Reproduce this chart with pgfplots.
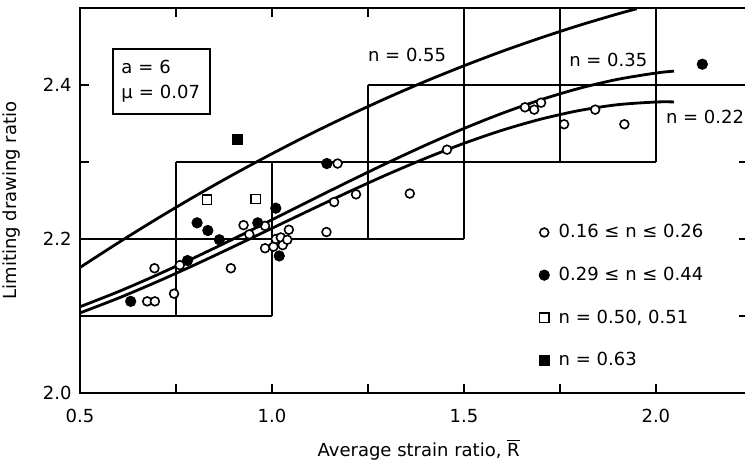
\documentclass[border=0pt]{standalone}
\usepackage{fontspec}
\setmainfont{DejaVu Sans}
\usepackage{pgfplots}
\pgfplotsset{compat=1.18}
\begin{document}
\begin{tikzpicture}
\fontsize{9pt}{11pt}\selectfont
\path[use as bounding box] (0,0) rectangle (372.5pt,232pt);
\begin{axis}[
  at={(40pt,35.5pt)}, anchor=south west,
  scale only axis, width=334pt, height=192.5pt,
  xmin=0.5, xmax=2.24, ymin=2.0, ymax=2.5,
  clip=false,
  axis line style={line width=1pt},
  tick align=inside, major tick length=4.5pt,
  tick style={line width=0.8pt, black},
  xtick={0.5,0.75,1.0,1.25,1.5,1.75,2.0},
  xticklabels={0.5,,1.0,,1.5,,2.0},
  ytick={2.0,2.1,2.2,2.3,2.4},
  yticklabels={2.0,,2.2,,2.4},
  /pgf/number format/assume math mode=true,
  xticklabel style={yshift=-5pt},
  yticklabel style={xshift=-1pt},
  xlabel={Average strain ratio, \ensuremath{\overline{\mbox{R}}}},
  ylabel={Limiting drawing ratio},
  every axis x label/.style={at={(axis description cs:0.507,-0.148)}, anchor=center},
  every axis y label/.style={at={(axis description cs:-0.102,0.5)}, rotate=90, anchor=center},
  legend style={at={(axis cs:1.686,2.2246)}, anchor=north west, draw=none, fill=none,
    inner sep=0pt, row sep=9.3pt, legend cell align=left},
  legend image code/.code={\path[draw=none,fill=none] (0pt,0pt) rectangle (9.5pt,0.1pt); \draw[mark repeat=2,mark phase=2,#1] plot coordinates {(0cm,0cm) (0.15cm,0cm) (0.3cm,0cm)};},
]
% tolerance boxes
\draw[line width=0.75pt] (axis cs:0.5,2.1) -- (axis cs:1.0,2.1);
\draw[line width=0.75pt] (axis cs:0.5,2.2) -- (axis cs:1.5,2.2);
\draw[line width=0.75pt] (axis cs:0.75,2.3) -- (axis cs:2.0,2.3);
\draw[line width=0.75pt] (axis cs:1.25,2.4) -- (axis cs:2.24,2.4);
\draw[line width=0.75pt] (axis cs:0.75,2.1) -- (axis cs:0.75,2.3);
\draw[line width=0.75pt] (axis cs:1.0,2.1) -- (axis cs:1.0,2.3);
\draw[line width=0.75pt] (axis cs:1.25,2.2) -- (axis cs:1.25,2.4);
\draw[line width=0.75pt] (axis cs:1.5,2.2) -- (axis cs:1.5,2.5);
\draw[line width=0.75pt] (axis cs:1.75,2.3) -- (axis cs:1.75,2.5);
\draw[line width=0.75pt] (axis cs:2.0,2.3) -- (axis cs:2.0,2.5);
% theory curves: n = 0.55, 0.35, 0.22
\addplot[forget plot, black, line width=1.4pt, smooth] coordinates {
(0.5,2.163) (0.6,2.1952) (0.7,2.2261) (0.8,2.2557) (0.9,2.2839) (1.0,2.3107)
(1.1,2.3363) (1.2,2.3604) (1.3,2.3833) (1.4,2.4048) (1.5,2.4249) (1.6,2.4438)
(1.7,2.4612) (1.8,2.4774) (1.9,2.4922) (1.95,2.499)};
\addplot[forget plot, black, line width=1.4pt, smooth] coordinates {
(0.5,2.112) (0.6,2.1316) (0.7,2.1532) (0.8,2.1762) (0.9,2.2002) (1.0,2.2249)
(1.1,2.2499) (1.2,2.2746) (1.3,2.2987) (1.4,2.3218) (1.5,2.3435) (1.6,2.3633)
(1.7,2.3808) (1.8,2.3956) (1.9,2.4073) (2.0,2.4155) (2.047,2.418)};
\addplot[forget plot, black, line width=1.4pt, smooth] coordinates {
(0.5,2.104) (0.6,2.1232) (0.7,2.1443) (0.8,2.1667) (0.9,2.1901) (1.0,2.2139)
(1.1,2.2377) (1.2,2.2612) (1.3,2.2837) (1.4,2.3048) (1.5,2.3242) (1.6,2.3413)
(1.7,2.3556) (1.8,2.3668) (1.9,2.3744) (2.0,2.3779) (2.047,2.378)};
% data
\addplot[only marks, mark=*, mark size=2.2pt, mark options={fill=white, draw=black, line width=0.8pt}] coordinates {
(0.694,2.162) (0.745,2.129) (0.675,2.119) (0.695,2.119) (0.760,2.166)
(0.893,2.162) (0.926,2.218) (0.941,2.206) (0.982,2.217) (0.982,2.188)
(1.004,2.190) (1.010,2.200) (1.023,2.202) (1.028,2.192) (1.040,2.199) (1.044,2.212)
(1.142,2.209) (1.162,2.248) (1.171,2.298) (1.219,2.258)
(1.359,2.259) (1.456,2.316) (1.659,2.371) (1.683,2.368) (1.701,2.377)
(1.761,2.349) (1.842,2.368) (1.918,2.349)};
\addlegendentry{0.16 ≤ n ≤ 0.26}
\addplot[only marks, mark=*, mark size=2.6pt, mark options={fill=black, draw=black}] coordinates {
(0.632,2.119) (0.780,2.172) (0.805,2.221) (0.833,2.211) (0.863,2.199)
(0.963,2.221) (1.010,2.240) (1.019,2.178) (1.143,2.298) (2.121,2.427)};
\addlegendentry{0.29 ≤ n ≤ 0.44}
\addplot[only marks, mark=square*, mark size=2.3pt, mark options={fill=white, draw=black, line width=0.8pt}] coordinates {
(0.831,2.251) (0.958,2.252)};
\addlegendentry{n = 0.50, 0.51}
\addplot[only marks, mark=square*, mark size=2.5pt, mark options={fill=black, draw=black}] coordinates {
(0.911,2.329)};
\addlegendentry{n = 0.63}
% annotations
\node[draw, line width=0.9pt, align=left, inner sep=3.5pt, minimum width=48.5pt, minimum height=32.5pt, text width=40pt] at (axis cs:0.712,2.4045) {a = 6\\[1.5pt]μ = 0.07};
\node at (axis cs:1.352,2.439) {n = 0.55};
\node at (axis cs:1.876,2.432) {n = 0.35};
\node at (axis cs:2.128,2.358) {n = 0.22};
\end{axis}
\end{tikzpicture}
\end{document}
